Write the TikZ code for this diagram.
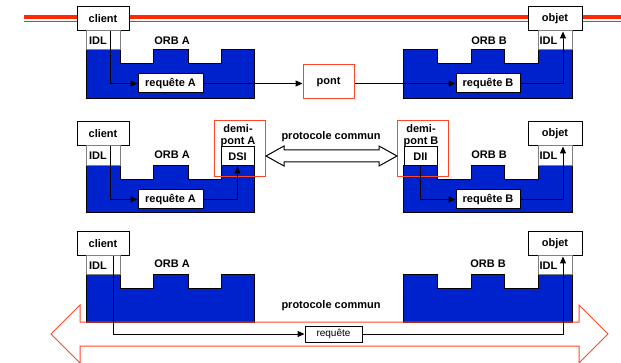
\documentclass[tikz,border=0pt]{standalone}
\usepackage{fontspec}
\setmainfont{Liberation Sans}
\usetikzlibrary{positioning,arrows.meta}

\definecolor{orbblue}{RGB}{0,34,204}
\definecolor{busred}{RGB}{255,40,0}
\definecolor{pontred}{RGB}{255,70,40}

\begin{document}
\begin{tikzpicture}[%
	x=1pt, y=-1pt,
	>={Triangle[length=7pt,width=6pt]},
	line width=1pt,
	lbl/.style={font=\fontsize{11}{12}\selectfont\bfseries, inner sep=0pt},
	box/.style={lbl, draw, fill=white},
	agent/.style={box, minimum width=52, minimum height=24},
	req/.style={box, minimum width=65, minimum height=19},
	idlA/.style={box, draw=gray, minimum height=19, text width=28, inner xsep=3pt, align=left},
	idlB/.style={box, draw=gray, minimum height=19, text width=31, inner xsep=1.5pt, align=left},
	demibox/.style={draw=pontred, minimum width=51, minimum height=56, inner sep=0pt},
	orb/.style={draw=black, fill=orbblue}
	]
	\useasboundingbox (0,0) rectangle (621,363);
	
	% bus
	\draw[busred, line width=3.5pt] (24,17) -- (621,17);
	\draw[busred, line width=1.5pt] (24,21.5) -- (621,21.5);
	
	% ORB A et ORB B
	\foreach \t/\b in {50/99, 166/213, 275/322}{
		\draw[orb] (86,\b) -- (86,\t) -- (120,\t) -- (120,\t+14) -- (153,\t+14) -- (153,\t) -- (188,\t) -- (188,\t+14) -- (221,\t+14) -- (221,\t) -- (254,\t) -- (254,\b) -- cycle;
		\draw[orb] (403,\b) -- (403,\t) -- (437,\t) -- (437,\t+14) -- (471,\t+14) -- (471,\t) -- (504,\t) -- (504,\t+14) -- (538,\t+14) -- (538,\t) -- (572,\t) -- (572,\b) -- cycle;
	}
	
	% pont
	\node[agent] (client1) at (103,19) {client};
	\node[idlA] (idlA1) at (103,40.5) {IDL};
	\node[lbl] (orbA1) at (172,41) {ORB A};
	\node[req] (reqA1) at (170.5,83.5) {requête A};
	\node[box, draw=pontred, minimum width=51, minimum height=34] (pont) at (328.5,82) {pont};
	\node[req, minimum width=64] (reqB1) at (488,83.5) {requête B};
	\node[lbl] (orbB1) at (489,41) {ORB B};
	\node[agent, minimum width=54] (objet1) at (555,19) {objet};
	\node[idlB] (idlB1) at (555,40.5) {IDL};
	
	\draw[->] ([xshift=7]client1.south) |- (reqA1);
	\draw[->] (reqA1) -- (reqA1 -| pont.west);
	\draw[->] (pont.east |- reqB1) -- (reqB1);
	\draw[->] (reqB1) -| ([xshift=8]objet1.south);
	
	% demi-ponts
	\node[agent] (client2) at (103,134) {client};
	\node[idlA, minimum height=20] (idlA2) at (103,156) {IDL};
	\node[lbl] (orbA2) at (172,155) {ORB A};
	\node[req] (reqA2) at (170.5,199.5) {requête A};
	\node[demibox] (demiA) at (239.5,149) {};
	\node[lbl, align=center, anchor=north] (demiAlbl) at (238,124) {demi-\\pont A};
	\node[box, minimum width=33, minimum height=19] (dsi) at (237.5,156.5) {DSI};
	
	\node[demibox] (demiB) at (422.5,149) {};
	\node[lbl, align=center, anchor=north] (demiBlbl) at (421,124) {demi-\\pont B};
	\node[box, minimum width=33, minimum height=19] (dii) at (420.5,156.5) {DII};
	\node[req, minimum width=64] (reqB2) at (488,199.5) {requête B};
	\node[lbl] (orbB2) at (489,155) {ORB B};
	\node[agent, minimum width=54] (objet2) at (555,134) {objet};
	\node[idlB, minimum height=20] (idlB2) at (555,156) {IDL};
	
	\draw[->] ([xshift=7]client2.south) |- (reqA2);
	\draw[->] (reqA2) -| (dsi);
	\draw[->] (dii) |- (reqB2);
	\draw[->] (reqB2) -| ([xshift=8]objet2.south);
	
	\draw[fill=white] (266,156) -- (284,146) -- (284,150) -- (379,150) -- (379,146) -- (397,156) -- (379,166) -- (379,162) -- (284,162) -- (284,166) -- cycle;
	\node[lbl] (proto2) at (331,137) {protocole commun};
	
	% protocole commun
	\node[agent] (client3) at (103,244) {client};
	\node[idlA] (idlA3) at (103,265.5) {IDL};
	\node[lbl] (orbA3) at (172,264) {ORB A};
	\node[lbl] (orbB3) at (488,264) {ORB B};
	\node[agent, minimum width=54] (objet3) at (555,244) {objet};
	\node[idlB] (idlB3) at (555,265.5) {IDL};
	
	\draw[pontred] (51,334) -- (80,305) -- (80,322) -- (579,322) -- (579,305) -- (608,334) -- (579,363) -- (579,346) -- (80,346) -- (80,363) -- cycle;
	\node[lbl] (proto3) at (331,306) {protocole commun};
	\node[box, font=\fontsize{10}{12}\selectfont, minimum width=57, minimum height=16] (req3) at (333.5,334) {requête};
	
	\draw[->] ([xshift=10]client3.south) |- (req3);
	\draw[->] (req3) -| ([xshift=8]objet3.south);
\end{tikzpicture}
\end{document}
